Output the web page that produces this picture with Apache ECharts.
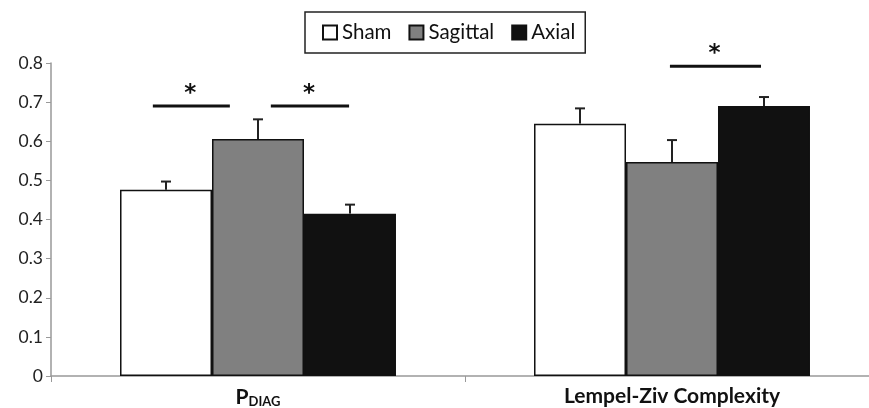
<!DOCTYPE html>
<html>
<head>
<meta charset="utf-8">
<script src="https://cdn.jsdelivr.net/npm/echarts@6/dist/echarts.min.js"></script>
<style>
  html, body { margin: 0; padding: 0; background: #fff; overflow: hidden; }
  /* the original figure is cropped on the right, so the chart is a bit wider than the window */
  #chart { width: 879px; height: 408px; }
</style>
</head>
<body>
<div id="chart"></div>
<script>
var categories = ['P_DIAG', 'Lempel-Ziv Complexity'];
var seriesNames = ['Sham', 'Sagittal', 'Axial'];
var shamValues = [0.476, 0.645];
var sagittalValues = [0.606, 0.547];
var axialValues = [0.415, 0.690];
var shamErrors = [0.021, 0.039];
var sagittalErrors = [0.050, 0.056];
var axialErrors = [0.023, 0.023];
// significance bars: [x start, x end, height] in category units
var sigBars = [
    [0.246, 0.432, 0.690],
    [0.531, 0.720, 0.690],
    [1.495, 1.715, 0.792]
];
var yTicks = [0, 0.1, 0.2, 0.3, 0.4, 0.5, 0.6, 0.7, 0.8];

var values = [shamValues, sagittalValues, axialValues];
var errors = [shamErrors, sagittalErrors, axialErrors];
var colors = ['#ffffff', '#808080', '#111111'];
var barRatio = 0.2222;
var font = 'Lato, "Open Sans", sans-serif';

function errorSeries(k) {
    var data = values[k].map(function (v, i) { return [i, v, errors[k][i]]; });
    return {
        type: 'custom',
        name: seriesNames[k] + ' err',
        silent: true,
        z: 5,
        data: data,
        renderItem: function (params, api) {
            var band = api.size([1, 0])[0];
            var top = api.coord([api.value(0), api.value(1)]);
            var end = api.coord([api.value(0), api.value(1) + api.value(2)]);
            var x = top[0] + (k - 1) * band * barRatio;
            var style = { stroke: '#222', lineWidth: 2 };
            return {
                type: 'group',
                children: [
                    { type: 'line', shape: { x1: x, y1: top[1], x2: x, y2: end[1] }, style: style },
                    { type: 'line', shape: { x1: x - 5, y1: end[1], x2: x + 5, y2: end[1] }, style: style }
                ]
            };
        }
    };
}

var series = seriesNames.map(function (name, k) {
    return {
        name: name,
        type: 'bar',
        barWidth: (barRatio * 100) + '%',
        barGap: '0%',
        data: values[k],
        itemStyle: { color: colors[k], borderColor: '#111', borderWidth: 1.5 }
    };
});
series = series.concat([errorSeries(0), errorSeries(1), errorSeries(2)]);
series.push({
    type: 'custom',
    name: 'sig',
    silent: true,
    xAxisIndex: 1,
    yAxisIndex: 0,
    data: sigBars,
    renderItem: function (params, api) {
        var a = api.coord([api.value(0), api.value(2)]);
        var b = api.coord([api.value(1), api.value(2)]);
        return {
            type: 'group',
            children: [
                { type: 'line', shape: { x1: a[0], y1: a[1], x2: b[0], y2: b[1] },
                  style: { stroke: '#111', lineWidth: 3 } },
                { type: 'text', x: (a[0] + b[0]) / 2 - 1, y: a[1] - 1,
                  style: { text: '*', fill: '#111', font: 'bold 23px "DejaVu Sans", sans-serif',
                           textAlign: 'center', textVerticalAlign: 'bottom' } }
            ]
        };
    }
});

var option = {
    animation: false,
    textStyle: { fontFamily: font },
    legend: {
        data: seriesNames,
        left: 305,
        top: 12,
        padding: [10, 10, 10, 17],
        itemGap: 17,
        itemWidth: 14,
        itemHeight: 14,
        icon: 'rect',
        borderColor: '#222',
        borderWidth: 1.5,
        textStyle: { fontSize: 20.5, color: '#111', fontFamily: font }
    },
    grid: { left: 51, right: 0, top: 63, bottom: 31 },
    xAxis: [
        {
            type: 'category',
            data: categories,
            axisLine: { lineStyle: { color: '#999', width: 1.5 } },
            axisTick: { show: true, length: 6, lineStyle: { color: '#999' } },
            axisLabel: {
                interval: 0,
                margin: 10,
                formatter: function (v) {
                    if (v === 'P_DIAG') return '{p|P}{sub|DIAG}';
                    return '{b|' + v + '}';
                },
                rich: {
                    p: { fontSize: 21, fontWeight: 'bold', color: '#111', fontFamily: font },
                    sub: { fontSize: 13, fontWeight: 'bold', color: '#111', fontFamily: font,
                           verticalAlign: 'bottom', padding: [9, 0, 0, 0] },
                    b: { fontSize: 21, fontWeight: 'bold', color: '#111', fontFamily: font }
                }
            }
        },
        { type: 'value', min: 0, max: 2, show: false }
    ],
    yAxis: {
        type: 'value',
        min: 0,
        max: 0.8,
        interval: 0.1,
        axisLine: { show: true, lineStyle: { color: '#999', width: 1.5 } },
        axisTick: { show: true, length: 5, lineStyle: { color: '#999' } },
        splitLine: { show: false },
        axisLabel: {
            fontSize: 17.5,
            color: '#222',
            margin: 8,
            fontFamily: font,
            formatter: function (v) {
                var t = yTicks.filter(function (y) { return Math.abs(y - v) < 1e-6; });
                return t.length ? String(t[0]) : '';
            }
        }
    },
    series: series
};

var chart = echarts.init(document.getElementById('chart'));
chart.setOption(option);
</script>
</body>
</html>
